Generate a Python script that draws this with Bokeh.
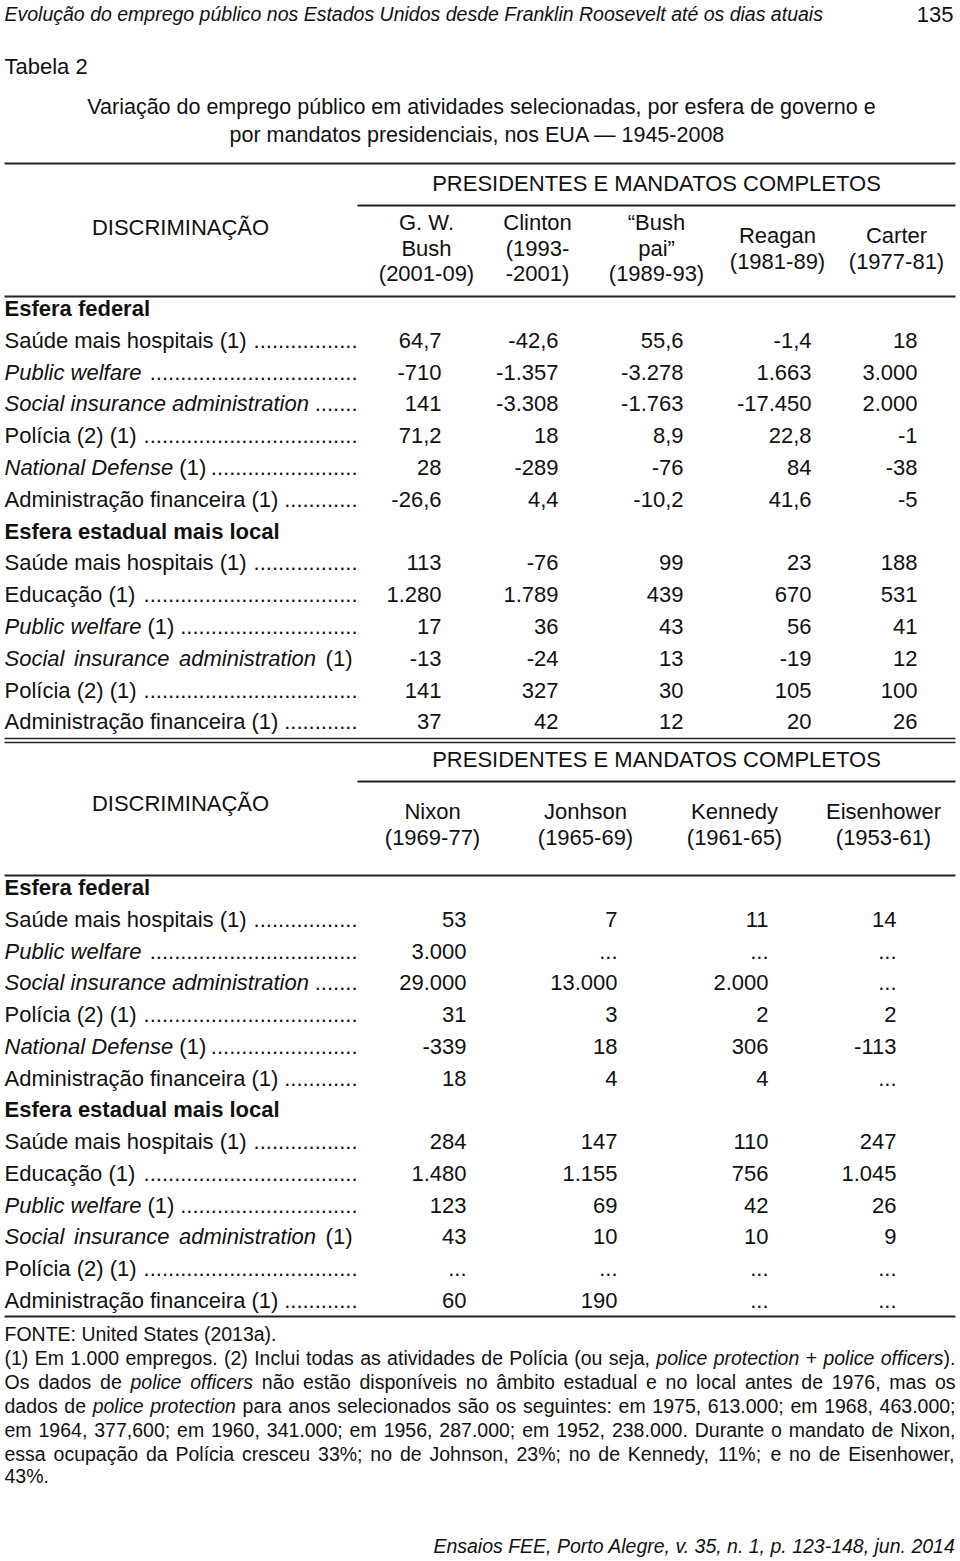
import math
from bokeh.plotting import figure
from bokeh.models import Range1d, ColumnDataSource
from bokeh.core.properties import value
from bokeh.embed import file_html
from bokeh.resources import INLINE

# ---------------- data ----------------
running_head = "Evolução do emprego público nos Estados Unidos desde Franklin Roosevelt até os dias atuais"
page_number = "135"
table_label = "Tabela 2"
title_lines = ["Variação do emprego público em atividades selecionadas, por esfera de governo e",
               "por mandatos presidenciais, nos EUA \u2014 1945-2008"]
group_header = "PRESIDENTES E MANDATOS COMPLETOS"
stub_header = "DISCRIMINAÇÃO"
section_names = ["Esfera federal", "Esfera estadual mais local"]

# '*' marks italic text
federal_rows = ["Saúde mais hospitais (1)", "*Public welfare*", "*Social insurance administration*",
                "Polícia (2) (1)", "*National Defense* (1)", "Administração financeira (1)"]
state_rows = ["Saúde mais hospitais (1)", "Educação (1)", "*Public welfare* (1)",
              "*Social insurance administration* (1)", "Polícia (2) (1)", "Administração financeira (1)"]

t1_presidents = [["G. W.", "Bush", "(2001-09)"], ["Clinton", "(1993-", "-2001)"],
                 ["\u201cBush", "pai\u201d", "(1989-93)"], ["Reagan", "(1981-89)"], ["Carter", "(1977-81)"]]
t1_federal = [["64,7", "-42,6", "55,6", "-1,4", "18"],
              ["-710", "-1.357", "-3.278", "1.663", "3.000"],
              ["141", "-3.308", "-1.763", "-17.450", "2.000"],
              ["71,2", "18", "8,9", "22,8", "-1"],
              ["28", "-289", "-76", "84", "-38"],
              ["-26,6", "4,4", "-10,2", "41,6", "-5"]]
t1_state = [["113", "-76", "99", "23", "188"],
            ["1.280", "1.789", "439", "670", "531"],
            ["17", "36", "43", "56", "41"],
            ["-13", "-24", "13", "-19", "12"],
            ["141", "327", "30", "105", "100"],
            ["37", "42", "12", "20", "26"]]

t2_presidents = [["Nixon", "(1969-77)"], ["Jonhson", "(1965-69)"], ["Kennedy", "(1961-65)"], ["Eisenhower", "(1953-61)"]]
t2_federal = [["53", "7", "11", "14"],
              ["3.000", "...", "...", "..."],
              ["29.000", "13.000", "2.000", "..."],
              ["31", "3", "2", "2"],
              ["-339", "18", "306", "-113"],
              ["18", "4", "4", "..."]]
t2_state = [["284", "147", "110", "247"],
            ["1.480", "1.155", "756", "1.045"],
            ["123", "69", "42", "26"],
            ["43", "10", "10", "9"],
            ["...", "...", "...", "..."],
            ["60", "190", "...", "..."]]

source_note = "FONTE: United States (2013a)."
footnote_lines = [
    "(1) Em 1.000 empregos. (2) Inclui todas as atividades de Polícia (ou seja, *police protection* + *police officers*).",
    "Os dados de *police officers* não estão disponíveis no âmbito estadual e no local antes de 1976, mas os",
    "dados de *police protection* para anos selecionados são os seguintes: em 1975, 613.000; em 1968, 463.000;",
    "em 1964, 377,600; em 1960, 341.000; em 1956, 287.000; em 1952, 238.000. Durante o mandato de Nixon,",
    "essa ocupação da Polícia cresceu 33%; no de Johnson, 23%; no de Kennedy, 11%; e no de Eisenhower,",
    "43%.",
]
footer = "Ensaios FEE, Porto Alegre, v. 35, n. 1, p. 123-148, jun. 2014"

# ---------------- layout helpers ----------------
FONT = "Liberation Sans"
INK = "#111111"
RULE = "#222222"

AW = {" ": 278, "!": 278, "(": 333, ")": 333, ",": 278, "-": 333, ".": 278, ":": 278, ";": 278,
      "%": 889, "+": 584, "\u201c": 333, "\u201d": 333, "\u2014": 1000}
for c in "0123456789":
    AW[c] = 556
for c, w in zip("ABCDEFGHIJKLMNOPQRSTUVWXYZ",
                [667, 667, 722, 722, 667, 611, 778, 722, 278, 500, 667, 556, 833, 722, 778, 667, 778, 722,
                 667, 611, 722, 667, 944, 667, 667, 611]):
    AW[c] = w
for c, w in zip("abcdefghijklmnopqrstuvwxyz",
                [556, 556, 500, 556, 556, 278, 556, 556, 222, 222, 500, 222, 833, 556, 556, 556, 556, 333,
                 500, 278, 556, 500, 722, 500, 500, 500]):
    AW[c] = w
for c in "áàãâéêóõôú":
    AW[c] = 556
AW["ç"] = 500
AW["í"] = 278
AW["Ç"] = 722
AW["Ã"] = 667


def tw(s, size):
    return sum(AW.get(c, 556) for c in s) * size / 1000.0


texts = {}


def add(x, y, s, size, style="normal", align="left"):
    key = (size, style, align)
    d = texts.setdefault(key, dict(x=[], y=[], text=[]))
    d["x"].append(x)
    d["y"].append(y)
    d["text"].append(s)


def parse_words(markup):
    words, cur, piece, italic = [], [], "", False
    for ch in markup:
        if ch == "*":
            if piece:
                cur.append((piece, italic))
                piece = ""
            italic = not italic
        elif ch == " ":
            if piece:
                cur.append((piece, italic))
                piece = ""
            if cur:
                words.append(cur)
                cur = []
        else:
            piece += ch
    if piece:
        cur.append((piece, italic))
    if cur:
        words.append(cur)
    return words


def line_width(markup, size):
    words = parse_words(markup)
    return sum(tw(t, size) for w in words for t, _ in w) + tw(" ", size) * (len(words) - 1)


def draw_line(x0, y, markup, size, target=None):
    words = parse_words(markup)
    widths = [sum(tw(t, size) for t, _ in w) for w in words]
    if target is not None and len(words) > 1:
        gap = (target - x0 - sum(widths)) / (len(words) - 1)
    else:
        gap = tw(" ", size)
    x = x0
    for w, wd in zip(words, widths):
        xx = x
        for t, it in w:
            add(xx, y, t, size, "italic" if it else "normal")
            xx += tw(t, size)
        x += wd + gap
    return x - gap


# ---------------- figure ----------------
PW, PH = 960, 1561
p = figure(width=PW, height=PH, x_range=Range1d(0, PW), y_range=Range1d(PH, 0),
           output_backend="svg", toolbar_location=None, x_axis_location=None, y_axis_location=None,
           min_border=0, background_fill_color="white", border_fill_color="white")
p.grid.visible = False
p.outline_line_color = None

BODY = 22
LEFT, RIGHT = 4, 955
LEADER_END = 357

# page head
add(LEFT, 13, running_head, 19.5, "italic")
add(953, 14, page_number, 22, "normal", "right")
add(LEFT, 66, table_label, 22)
add(481, 106, title_lines[0], 21.5, "normal", "center")
add(477, 134, title_lines[1], 21.5, "normal", "center")

rules = dict(x0=[], x1=[], y=[], w=[])


def rule(x0, x1, y, w=1.8):
    rules["x0"].append(x0)
    rules["x1"].append(x1)
    rules["y"].append(y)
    rules["w"].append(w)


def draw_table(top, top_rule, presidents, head_cx, head_lines_y, right_edges, federal, state, y_first, step):
    if top_rule:
        rule(LEFT, RIGHT, top)
    add(656, top + 20, group_header, BODY, "normal", "center")
    rule(LEADER_END, RIGHT, top + 42)
    for cx, lines in zip(head_cx, presidents):
        ys = head_lines_y[len(lines)]
        for ln, yy in zip(lines, ys):
            add(cx, yy, ln, BODY, "normal", "center")
    add(180, head_lines_y["stub"], stub_header, BODY, "normal", "center")
    rule(LEFT, RIGHT, y_first - 12)
    y = y_first
    dotw = tw(".", BODY)
    for sec, labels, vals in ((section_names[0], federal_rows, federal), (section_names[1], state_rows, state)):
        add(LEFT, y, sec, BODY, "bold")
        y += step
        for lab, row in zip(labels, vals):
            natural_end = LEFT + line_width(lab, BODY)
            n = int((LEADER_END - natural_end - 4) // dotw)
            if n >= 3:
                draw_line(LEFT, y, lab, BODY)
                add(LEADER_END, y, "." * n, BODY, "normal", "right")
            else:
                # label fills the stub: widen word spacing instead of leaders
                draw_line(LEFT, y, lab, BODY, target=352)
            for xr, v in zip(right_edges, row):
                add(xr, y, v, BODY, "normal", "right")
            y += step
    return y


draw_table(163, True, t1_presidents, [426, 537, 656, 777, 896],
           {3: [222, 247.5, 273], 2: [235, 260.5], "stub": 227},
           [441, 558, 683, 811, 917], t1_federal, t1_state, 308, 31.8)

# double rule between the two halves
rule(LEFT, RIGHT, 738, 1.4)
rule(LEFT, RIGHT, 742, 1.4)

draw_table(739, False, t2_presidents, [432, 585, 734, 883],
           {2: [811, 837], "stub": 803},
           [466, 617, 768, 896], t2_federal, t2_state, 887, 31.77)
rule(LEFT, RIGHT, 1316)

# notes
FN = 19.5
add(LEFT, 1333, source_note, FN)
fy = [1357, 1381, 1405, 1429, 1453, 1475]
for i, (ln, yy) in enumerate(zip(footnote_lines, fy)):
    draw_line(LEFT, yy, ln, FN, target=RIGHT if i < len(footnote_lines) - 1 else None)

add(RIGHT, 1545, footer, 19.5, "italic", "right")

# ---------------- draw ----------------
p.segment(x0="x0", x1="x1", y0="y", y1="y", line_width="w", line_color=RULE,
          source=ColumnDataSource(rules))

for (size, style, align), d in texts.items():
    p.text(x="x", y="y", text="text", source=ColumnDataSource(d),
           text_font=value(FONT), text_font_size=f"{size}px", text_font_style=style,
           text_align=align, text_baseline="middle", text_color=INK)

open("out.html", "w").write(file_html(p, INLINE))
